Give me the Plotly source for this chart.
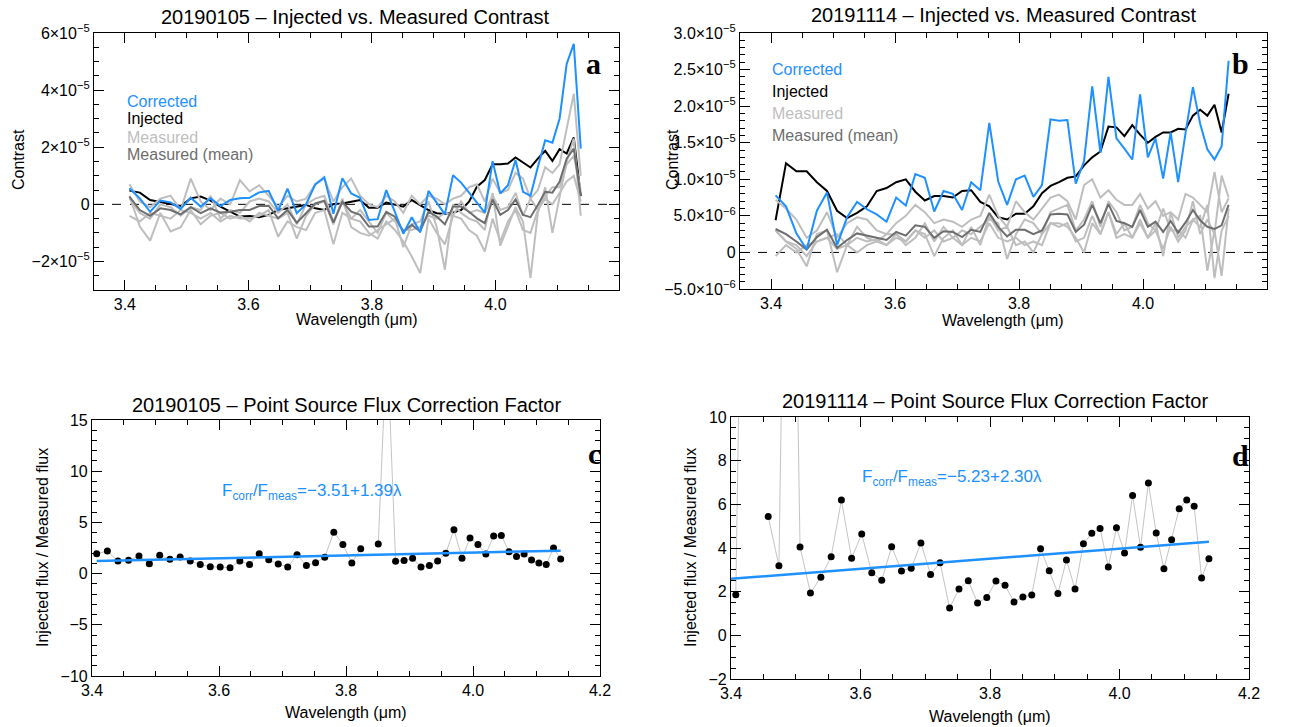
import plotly.graph_objects as go

# ---------------- data ----------------
wavelength = [3.4074, 3.4242, 3.4409, 3.4575, 3.4740, 3.4903, 3.5066, 3.5227, 3.5388, 3.5547,
              3.5705, 3.5863, 3.6019, 3.6174, 3.6328, 3.6481, 3.6633, 3.6783, 3.6933, 3.7082,
              3.7229, 3.7376, 3.7521, 3.7665, 3.7808, 3.7951, 3.8092, 3.8232, 3.8371, 3.8508,
              3.8645, 3.8781, 3.8915, 3.9049, 3.9181, 3.9313, 3.9443, 3.9572, 3.9700, 3.9827,
              3.9953, 4.0078, 4.0202, 4.0325, 4.0446, 4.0567, 4.0686, 4.0805, 4.0922, 4.1038,
              4.1153, 4.1268, 4.1381]

# Panel a (20190105) contrast, in units of 1e-5
a_corrected = [0.56, 0.21, -0.26, 0.13, 0.07, -0.16, 0.23, -0.08, 0.21, -0.06,
               0.15, 0.21, 0.23, 0.42, 0.47, -0.23, 0.55, -0.31, 0.00, 0.70,
               0.95, -0.33, 0.91, 0.38, 0.23, -0.55, -0.52, 0.50, -0.26, -1.03,
               -0.45, -0.98, 0.47, 0.07, -0.35, 1.02, 0.76, 0.41, 0.06, -0.29,
               1.51, 0.38, 0.67, 1.55, 0.44, 0.30, 1.31, 2.24, 2.16, 3.00,
               4.92, 5.62, 1.95]
a_injected = [0.48, 0.41, 0.15, 0.07, 0.01, -0.06, 0.21, 0.27, 0.13, -0.08,
              -0.26, -0.43, -0.41, -0.45, -0.37, -0.20, -0.14, -0.08, -0.02, -0.14,
              -0.20, 0.01, 0.03, 0.09, 0.15, -0.12, -0.12, 0.06, -0.02, -0.08,
              0.15, -0.02, -0.20, -0.31, -0.34, -0.29, -0.20, 0.09, 0.62, 0.85,
              1.40, 1.40, 1.43, 1.64, 1.45, 1.29, 1.60, 1.87, 1.52, 1.93,
              1.78, 2.34, 0.29]
a_mean = [0.27, -0.20, -0.40, -0.14, -0.20, -0.35, -0.10, -0.31, -0.14, -0.29,
          -0.26, -0.20, -0.20, -0.06, -0.05, -0.49, -0.20, -0.64, -0.31, 0.03,
          0.13, -0.64, 0.09, -0.26, -0.37, -0.78, -0.78, -0.26, -0.43, -0.95,
          -0.72, -0.95, -0.26, -0.43, -0.70, -0.08, -0.08, -0.26, -0.49, -0.66,
          0.17, -0.37, -0.20, 0.17, -0.37, -0.45, -0.02, 0.44, 0.41, 0.79,
          1.60, 1.95, 0.29]
a_meas1 = [0.7, 0.1, -0.1, 0.2, 0.3, -0.2, 0.9, 0.1, -0.2, 0.2,
           0.0, 0.85, 0.45, 0.67, 0.3, -0.1, 0.3, 0.1, 0.2, 0.7,
           0.9, 0.1, 0.6, 0.9, 0.3, 0.0, -0.1, 0.3, 0.1, -0.3,
           0.3, 0.0, 0.3, 0.2, 0.0, 0.2, 0.3, 0.6, 0.7, 0.1,
           0.9, 0.4, 0.5, 1.1, 0.9, 0.2, 0.5, 1.3, 1.1, 1.4,
           2.65, 3.87, 1.0]
a_meas2 = [-0.4, -0.6, -0.3, -0.4, -0.5, -0.2, -0.3, -0.5, -0.3, -0.6,
           -0.4, -0.5, -0.5, -0.4, -0.2, -1.13, -0.6, -0.8, -0.9, -0.3,
           -0.2, -1.4, -0.3, -0.5, -0.6, -1.0, -1.2, -0.6, -0.9, -1.3,
           -1.83, -2.41, -0.5, -1.0, -1.4, -0.4, -0.5, -0.9, -1.1, -1.65,
           -0.5, -1.3, -0.6, -0.2, -0.9, -1.0, -0.2, 0.2, 0.0, 0.4,
           0.8, 1.0, 0.1]
a_meas3 = [0.3, -0.78, -1.27, -0.3, -0.95, -0.8, -0.2, -0.7, -0.4, -0.3,
           -0.5, -0.4, -0.6, -0.3, -0.4, -0.5, -0.3, -1.2, -0.4, 0.0,
           0.1, -0.7, 0.2, -0.8, -1.0, -1.1, -0.9, -0.7, -0.5, -1.5,
           -0.7, -0.6, 0.1, -0.8, -2.29, 0.0, -0.3, -0.5, -0.6, -0.9,
           0.4, -1.45, -0.8, -0.1, -0.6, -2.58, -0.3, 0.6, -1.0, 0.2,
           1.5, 2.3, -0.4]
a_meas4 = [0.2, -0.3, -0.5, 0.0, -0.1, -0.4, -0.1, -0.2, 0.3, -0.5,
           -0.2, -0.3, 0.1, 0.2, 0.1, -0.3, 0.0, -0.7, 0.0, 0.2,
           0.3, -0.6, 0.1, -0.5, -0.2, -0.6, -1.0, -0.3, -0.6, -0.9,
           -0.9, -0.8, -0.4, -0.5, -0.3, -0.4, 0.1, -0.3, -0.2, -0.3,
           0.3, -0.2, -0.1, 0.4, -0.4, 0.2, -0.2, 0.3, 0.6, 0.6,
           1.4, 1.7, 0.5]

# Panel b (20191114) contrast, in units of 1e-5
b_corrected = [0.78, 0.63, 0.26, 0.04, 0.57, 0.82, 0.10, 0.48, 0.69, 0.59,
               0.52, 0.42, 0.75, 0.64, 1.07, 1.02, 0.56, 0.84, 0.80, 0.58,
               0.96, 0.85, 1.77, 0.97, 0.65, 1.00, 1.05, 0.76, 0.92, 1.82,
               1.80, 1.81, 0.94, 1.25, 2.27, 1.36, 2.40, 1.56, 1.42, 1.27,
               2.16, 1.30, 1.56, 1.01, 1.64, 0.96, 1.63, 2.26, 1.76, 1.41,
               1.27, 1.45, 2.62]
b_injected = [0.44, 1.22, 1.11, 1.11, 0.96, 0.84, 0.57, 0.47, 0.54, 0.63,
              0.84, 0.88, 0.96, 1.00, 0.83, 0.71, 0.77, 0.77, 0.75, 0.84,
              0.85, 0.69, 0.63, 0.48, 0.45, 0.53, 0.53, 0.63, 0.81, 0.91,
              0.96, 1.02, 1.04, 1.19, 1.30, 1.38, 1.72, 1.71, 1.59, 1.74,
              1.61, 1.50, 1.58, 1.64, 1.64, 1.69, 1.68, 1.87, 1.95, 1.87,
              2.02, 1.64, 2.17]
b_mean = [0.32, 0.25, 0.15, 0.04, 0.21, 0.31, 0.06, 0.17, 0.26, 0.23,
          0.20, 0.17, 0.28, 0.23, 0.37, 0.35, 0.20, 0.29, 0.28, 0.21,
          0.31, 0.28, 0.54, 0.35, 0.22, 0.31, 0.31, 0.25, 0.30, 0.52,
          0.53, 0.52, 0.28, 0.38, 0.65, 0.40, 0.66, 0.43, 0.40, 0.35,
          0.58, 0.35, 0.42, 0.28, 0.43, 0.27, 0.41, 0.58, 0.44, 0.35,
          0.32, 0.37, 0.65]
b_meas1 = [0.72, 0.60, 0.45, 0.20, 0.30, 0.55, 0.20, 0.40, 0.48, 0.45,
           0.30, 0.25, 0.40, 0.50, 0.65, 0.55, 0.40, 0.45, 0.42, 0.35,
           0.45, 0.50, 0.79, 0.50, 0.35, 0.70, 0.55, 0.45, 0.60, 0.75,
           0.79, 0.70, 0.45, 0.92, 1.00, 0.75, 0.85, 0.72, 0.65, 0.65,
           0.80, 0.60, 0.70, 0.50, 0.55, 0.45, 0.80, 0.75, 0.65, 0.55,
           1.10, 0.55, 0.74]
b_meas2 = [0.30, 0.15, 0.05, -0.19, 0.25, 0.30, -0.27, 0.10, 0.35, 0.20,
           0.15, 0.10, 0.25, 0.10, 0.20, 0.40, 0.15, 0.35, 0.20, 0.30,
           0.25, 0.35, 0.45, 0.40, -0.09, 0.25, 0.45, 0.40, 0.25, 0.55,
           0.60, 0.65, 0.30, 0.45, 0.70, 0.35, 0.70, 0.55, 0.30, 0.35,
           0.65, 0.40, 0.30, 0.05, 0.35, 0.15, 0.30, 0.70, 0.25, 0.45,
           0.25, 1.05, 0.75]
b_meas3 = [-0.05, 0.10, 0.00, 0.10, 0.15, 0.20, 0.05, 0.10, 0.20, 0.15,
           0.18, 0.10, 0.20, 0.15, 0.30, 0.25, -0.05, 0.20, 0.30, 0.10,
           0.20, 0.15, 0.40, 0.20, 0.15, 0.20, 0.10, 0.15, 0.10, 0.40,
           0.35, 0.40, 0.15, 0.20, 0.50, 0.25, 0.55, 0.25, 0.40, 0.20,
           0.45, 0.20, 0.40, -0.05, 0.55, 0.20, 0.35, 0.45, 0.50, -0.25,
           0.30, -0.32, 0.60]
b_meas4 = [0.30, 0.15, 0.10, -0.05, 0.15, 0.20, 0.25, 0.10, 0.00, 0.10,
           0.15, 0.25, 0.25, 0.15, 0.30, 0.20, 0.30, 0.15, 0.20, 0.10,
           0.35, 0.10, 0.50, 0.30, 0.35, 0.10, 0.15, 0.00, 0.25, 0.40,
           0.40, 0.35, 0.20, 0.00, 0.40, 0.25, 0.55, 0.20, 0.25, 0.20,
           0.40, 0.20, 0.30, 0.60, 0.30, 0.30, 0.20, 0.45, 0.35, 0.65,
           -0.35, 0.30, 0.50]

# Panel c / d: injected flux / measured flux (None = no value)
c_ratio = [1.95, 2.20, 1.23, 1.30, 1.72, 0.97, 1.78, 1.39, 1.62, 1.23,
           0.88, 0.68, 0.65, 0.58, 1.23, 0.88, 1.95, 1.36, 0.94, 0.65,
           1.85, 0.78, 1.07, 1.59, 4.05, 2.85, 1.03, 2.43, None, 2.88,
           23.0, 1.20, 1.27, 1.49, 0.65, 0.78, 1.23, 1.98, 4.28, 1.49,
           3.47, 2.85, 1.91, 3.66, 3.73, 2.14, 1.68, 1.91, 1.33, 1.03,
           0.88, 2.49, 1.42]
d_ratio = [1.86, 34.0, None, 5.44, 3.19, 35.0, 4.05, 1.94, 2.66, 3.60,
           6.20, 3.53, 4.64, 2.87, 2.52, 4.06, 2.95, 3.07, 4.23, 2.79,
           3.33, 1.25, 2.12, 2.50, 1.48, 1.73, 2.49, 2.29, 1.53, 1.76,
           1.85, 3.97, 2.96, 1.92, 3.45, 2.12, 4.20, 4.67, 4.89, 3.13,
           4.93, 3.77, 6.41, 4.03, 6.98, 4.69, 3.05, 4.38, 5.80, 6.20,
           5.91, 2.63, 3.51]
# linear fits F_corr/F_meas (end points)
c_fit_x = [3.4074, 4.1381]
c_fit_y = [1.226, 2.242]
d_fit_x = [3.40, 4.1381]
d_fit_y = [2.59, 4.288]

for arr in [a_corrected, a_injected, a_mean, a_meas1, a_meas2, a_meas3, a_meas4,
            b_corrected, b_injected, b_mean, b_meas1, b_meas2, b_meas3, b_meas4,
            c_ratio, d_ratio]:
    assert len(arr) == len(wavelength), len(arr)

# tick labels
a_yticks = [-2, 0, 2, 4, 6]
a_yticktext = ["−2×10<sup>−5</sup>", "0", "2×10<sup>−5</sup>", "4×10<sup>−5</sup>", "6×10<sup>−5</sup>"]
b_yticks = [-0.5, 0, 0.5, 1.0, 1.5, 2.0, 2.5, 3.0]
b_yticktext = ["−5.0×10<sup>−6</sup>", "0", "5.0×10<sup>−6</sup>", "1.0×10<sup>−5</sup>",
               "1.5×10<sup>−5</sup>", "2.0×10<sup>−5</sup>", "2.5×10<sup>−5</sup>", "3.0×10<sup>−5</sup>"]
ab_xticks = [3.4, 3.6, 3.8, 4.0]
cd_xticks = [3.4, 3.6, 3.8, 4.0, 4.2]
c_yticks = [-10, -5, 0, 5, 10, 15]
d_yticks = [-2, 0, 2, 4, 6, 8, 10]

# ---------------- styling ----------------
W, H = 1289, 727
FONT = "Liberation Sans, Arial, Helvetica, sans-serif"
BLUE = "#1E90FF"
LGRAY = "#BEBEBE"
DGRAY = "#6E6E6E"


def fx(p):
    return p / W


def fy(p):
    return 1 - p / H


fig = go.Figure()


def add_contrast(ax, ay, injected, meas, mean, corrected):
    fig.add_trace(go.Scatter(x=wavelength, y=injected, xaxis=ax, yaxis=ay, mode="lines",
                             line=dict(color="black", width=2)))
    for m in meas:
        fig.add_trace(go.Scatter(x=wavelength, y=m, xaxis=ax, yaxis=ay, mode="lines",
                                 line=dict(color=LGRAY, width=2)))
    fig.add_trace(go.Scatter(x=wavelength, y=mean, xaxis=ax, yaxis=ay, mode="lines",
                             line=dict(color=DGRAY, width=2)))
    fig.add_trace(go.Scatter(x=wavelength, y=corrected, xaxis=ax, yaxis=ay, mode="lines",
                             line=dict(color=BLUE, width=2)))


add_contrast("x", "y", a_injected, [a_meas1, a_meas2, a_meas3, a_meas4], a_mean, a_corrected)
add_contrast("x2", "y2", b_injected, [b_meas1, b_meas2, b_meas3, b_meas4], b_mean, b_corrected)


def add_ratio(ax, ay, ratio, fitx, fity):
    fig.add_trace(go.Scatter(x=wavelength, y=ratio, xaxis=ax, yaxis=ay, mode="lines",
                             line=dict(color="#C4C4C4", width=1)))
    fig.add_trace(go.Scatter(x=wavelength, y=ratio, xaxis=ax, yaxis=ay, mode="markers",
                             marker=dict(color="black", size=7)))
    fig.add_trace(go.Scatter(x=fitx, y=fity, xaxis=ax, yaxis=ay, mode="lines",
                             line=dict(color=BLUE, width=2.5)))


add_ratio("x3", "y3", c_ratio, c_fit_x, c_fit_y)
add_ratio("x4", "y4", d_ratio, d_fit_x, d_fit_y)


def axis(domain, rng, tickvals, ticktext, minor_dtick, minor_tick0, anchor):
    return dict(domain=domain, range=rng, anchor=anchor, automargin=False,
                tickmode="array", tickvals=tickvals, ticktext=ticktext,
                showline=True, linecolor="black", linewidth=1.2, mirror="ticks",
                ticks="inside", ticklen=10, tickwidth=1, tickcolor="black",
                showgrid=False, zeroline=False,
                tickfont=dict(family=FONT, size=16, color="black"),
                minor=dict(ticks="inside", ticklen=5, tickwidth=1, tickcolor="black",
                           dtick=minor_dtick, tick0=minor_tick0, showgrid=False))


fig.update_layout(
    template="none",
    width=W, height=H, autosize=False,
    margin=dict(l=0, r=0, t=0, b=0, pad=0),
    paper_bgcolor="white", plot_bgcolor="white",
    showlegend=False,
    font=dict(family=FONT, size=16, color="black"),
    xaxis=axis([fx(94), fx(619)], [3.35, 4.2], ab_xticks, [f"{v:.1f}" for v in ab_xticks], 0.05, 3.4, "y"),
    yaxis=axis([fy(290), fy(33)], [-3, 6], a_yticks, a_yticktext, 0.5, 0, "x"),
    xaxis2=axis([fx(740), fx(1267)], [3.35, 4.2], ab_xticks, [f"{v:.1f}" for v in ab_xticks], 0.05, 3.4, "y2"),
    yaxis2=axis([fy(289), fy(33)], [-0.5, 3.0], b_yticks, b_yticktext, 0.1, 0, "x2"),
    xaxis3=axis([fx(92), fx(600)], [3.4, 4.2], cd_xticks, [f"{v:.1f}" for v in cd_xticks], 0.05, 3.4, "y3"),
    yaxis3=axis([fy(676), fy(420)], [-10, 15], c_yticks, [str(v).replace("-", "−") for v in c_yticks], 1, 0, "x3"),
    xaxis4=axis([fx(731), fx(1249)], [3.4, 4.2], cd_xticks, [f"{v:.1f}" for v in cd_xticks], 0.05, 3.4, "y4"),
    yaxis4=axis([fy(679), fy(417)], [-2, 10], d_yticks, [str(v).replace("-", "−") for v in d_yticks], 0.5, 0, "x4"),
)

# dashed zero lines
for xr, yr in [("x domain", "y"), ("x2 domain", "y2")]:
    fig.add_shape(type="line", xref=xr, yref=yr, x0=0, x1=1, y0=0, y1=0,
                  line=dict(color="black", width=1, dash="dash"), layer="below")


def text(x, y, s, size=16, color="black", xanchor="center", angle=0, family=FONT):
    fig.add_annotation(x=fx(x), y=fy(y), xref="paper", yref="paper", text=s, showarrow=False,
                       xanchor=xanchor, yanchor="middle", textangle=angle,
                       font=dict(family=family, size=size, color=color))


# panel titles
text(355, 17, "20190105 – Injected vs. Measured Contrast", size=20)
text(1003, 15, "20191114 – Injected vs. Measured Contrast", size=20)
text(346, 405, "20190105 – Point Source Flux Correction Factor", size=20)
text(995, 401, "20191114 – Point Source Flux Correction Factor", size=20)

# axis titles
text(357, 319, "Wavelength (μm)")
text(1003, 321, "Wavelength (μm)")
text(346, 712, "Wavelength (μm)")
text(990, 716, "Wavelength (μm)")
text(18, 160, "Contrast", angle=-90)
text(672, 160, "Contrast", angle=-90)
text(42, 548, "Injected flux / Measured flux", angle=-90)
text(690, 548, "Injected flux / Measured flux", angle=-90)

# in-plot legends
for (x0, ys) in [(125, [101, 119, 137, 155]), (770, [69, 91, 113, 135])]:
    for y, s, c in zip(ys, ["Corrected", "Injected", "Measured", "Measured (mean)"],
                       [BLUE, "black", LGRAY, DGRAY]):
        text(x0, y, s, color=c, xanchor="left")

# panel letters
SERIF = "Liberation Serif, DejaVu Serif, Times New Roman, serif"
for x, y, s in [(593, 63, "a"), (1240, 63, "b"), (594, 453, "c"), (1240, 455, "d")]:
    text(x, y, f"<b>{s}</b>", size=30, family=SERIF)

# fit equations
text(220, 492, "F<sub>corr</sub>/F<sub>meas</sub>=−3.51+1.39λ", size=17, color=BLUE, xanchor="left")
text(860, 478, "F<sub>corr</sub>/F<sub>meas</sub>=−5.23+2.30λ", size=17, color=BLUE, xanchor="left")

fig.write_html("out.html", config={"displayModeBar": False},
               post_script="document.body.style.margin='0';document.body.style.overflow='hidden';")
